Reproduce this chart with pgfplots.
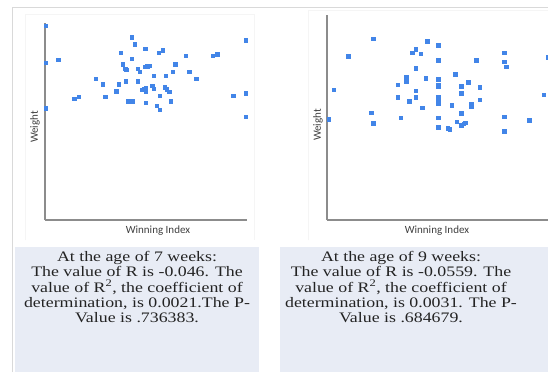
\documentclass[border=0pt]{standalone}
\usepackage{pgfplots}
\pgfplotsset{compat=1.18}
\usepackage{fontspec}
\setmainfont[FakeStretch=1.23]{Liberation Serif}
\newfontfamily\lab{Carlito}
\definecolor{dot}{RGB}{66,133,232}
\definecolor{boxfill}{RGB}{232,236,245}
\definecolor{axgray}{RGB}{140,140,140}
\definecolor{txt}{RGB}{35,35,35}
\pgfplotstableread{
x y
137 582
137 472
137 335
175 480
222 364
236 369
287 423
308 407
316 369
349 386
356 407
362 501
368 467
376 453
379 450
377 416
384 356
398 356
395 547
404 526
395 483
413 453
419 444
413 416
436 513
436 460
441 461
449 462
461 432
425 391
432 392
437 395
437 384
456 402
461 394
437 351
470 342
479 330
479 372
476 501
488 509
497 432
494 398
500 392
507 385
512 356
518 445
525 467
557 492
567 445
588 424
638 492
651 496
699 372
737 539
737 380
737 309
}\weekseven
\pgfplotstableread{
x y
165 303
180 391
224 491
293 322
298 290
298 544
372 406
372 368
381 307
397 430
397 423
397 417
406 357
416 502
426 513
426 456
426 388
426 368
441 499
446 337
456 425
460 537
494 525
494 479
494 422
494 406
494 400
494 368
494 362
494 356
494 349
494 307
494 279
522 276
528 272
534 344
544 437
549 295
563 402
563 380
563 321
563 285
570 289
574 292
584 414
593 348
593 340
608 479
618 398
618 361
691 502
691 475
697 460
691 310
691 267
766 299
810 376
822 488
}\weeknine
\pgfplotsset{
  scat/.style={
    scale only axis, clip=false,
    axis lines=left, axis line style={-, draw=axgray, line width=1.4pt},
    ticks=none, ymin=0,
  }
}
\begin{document}
\begin{tikzpicture}
\useasboundingbox (0,0) rectangle (548pt,-372pt);
\clip (0,0) rectangle (548pt,-372pt);
\fill[white] (0,0) rectangle (548pt,-372pt);
% outer frame
\draw[gray!30, line width=0.8pt] (12pt,-372pt) -- (12pt,-7pt) -- (548pt,-7pt);
% faint panel borders
\draw[gray!8, line width=0.6pt] (25pt,-240pt) -- (25pt,-14pt) -- (254pt,-14pt) -- (254pt,-240pt);
\draw[gray!8, line width=0.6pt] (308pt,-240pt) -- (308pt,-10pt) -- (548pt,-10pt);
% text boxes
\fill[boxfill] (15pt,-247pt) rectangle (259pt,-372pt);
\fill[boxfill] (280pt,-247pt) rectangle (548pt,-372pt);

\begin{axis}[scat, at={(45pt,-220pt)}, anchor=south west,
  width=202pt, height=197pt, xmin=135, xmax=741, ymax=590]
\addplot[only marks, mark=square*, mark size=1.7pt, color=dot] table[x=x,y=y] {\weekseven};
\end{axis}

\begin{axis}[scat, at={(327pt,-220pt)}, anchor=south west,
  width=243pt, height=205pt, xmin=160, xmax=889, ymax=615]
\addplot[only marks, mark=square*, mark size=1.7pt, color=dot] table[x=x,y=y] {\weeknine};
\end{axis}

% axis labels
\node[rotate=90, text=black!75, font=\lab\fontsize{11}{12}\selectfont] at (35pt,-127pt) {Weight};
\node[rotate=90, text=black!75, font=\lab\fontsize{11}{12}\selectfont] at (318pt,-125pt) {Weight};
\node[text=black!75, font=\lab\fontsize{11}{12}\selectfont] at (158pt,-231pt) {Winning Index};
\node[text=black!75, font=\lab\fontsize{11}{12}\selectfont] at (437pt,-231pt) {Winning Index};

% texts
\begin{scope}[every node/.style={anchor=base, text=txt, font=\fontsize{14.5}{15}\selectfont, inner sep=0pt}]
\node at (137pt,-261.5pt) {At the age of 7 weeks:};
\node at (137pt,-276.8pt) {The value of R is -0.046. The};
\node at (137pt,-292.1pt) {value of R\textsuperscript{2}, the coefficient of};
\node at (137pt,-307.4pt) {determination, is 0.0021.The P-};
\node at (137pt,-322.7pt) {Value is .736383.};
\node at (401pt,-261.5pt) {At the age of 9 weeks:};
\node at (401pt,-276.8pt) {The value of R is -0.0559. The};
\node at (401pt,-292.1pt) {value of R\textsuperscript{2}, the coefficient of};
\node at (401pt,-307.4pt) {determination, is 0.0031. The P-};
\node at (401pt,-322.7pt) {Value is .684679.};
\end{scope}
\end{tikzpicture}
\end{document}
